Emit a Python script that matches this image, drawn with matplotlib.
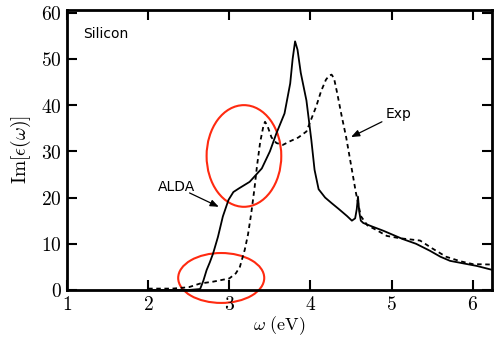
import numpy as np
import matplotlib
matplotlib.use("Agg")
import matplotlib.pyplot as plt
from matplotlib.patches import Ellipse
from matplotlib.ticker import FuncFormatter

# ALDA (solid)
alda_w = [2.0, 2.5, 2.64, 2.68, 2.72, 2.76, 2.80, 2.86, 2.92, 2.99, 3.05, 3.12, 3.25, 3.40,
          3.50, 3.58, 3.68, 3.75, 3.78, 3.81, 3.84, 3.88, 3.95, 4.01, 4.05, 4.10, 4.18, 4.26,
          4.35, 4.45, 4.51, 4.55, 4.57, 4.585, 4.60, 4.62, 4.65, 4.75, 4.9, 5.14, 5.3, 5.47,
          5.6, 5.72, 5.9, 6.05, 6.25]
alda_eps = [0, 0, 0.2, 2, 4.3, 6, 7.9, 11.5, 15.9, 19.5, 21.2, 22, 23.4, 26.3,
            30, 33.9, 38.2, 44.7, 50, 53.8, 52, 47, 41, 32.5, 26, 21.8, 20, 18.8,
            17.5, 16, 15, 15.5, 17.5, 20.2, 17, 15, 14.5, 13.8, 12.8, 11, 10, 8.5,
            7.2, 6.3, 5.7, 5.2, 4.3]

# experiment (dashed)
exp_w = [2.0, 2.3, 2.5, 2.64, 2.8, 3.0, 3.08, 3.13, 3.19, 3.23, 3.27, 3.31, 3.34, 3.38,
         3.42, 3.44, 3.47, 3.52, 3.58, 3.66, 3.75, 3.85, 3.95, 4.07, 4.13, 4.19, 4.23, 4.26,
         4.29, 4.33, 4.38, 4.44, 4.50, 4.56, 4.62, 4.7, 4.81, 4.94, 5.1, 5.35, 5.5, 5.67,
         5.85, 6.0, 6.25]
exp_eps = [0.3, 0.3, 0.6, 1.4, 1.8, 2.5, 3.6, 5, 8.7, 12, 16.6, 22, 26.7, 32,
           35.5, 36.4, 35.5, 33, 31.8, 31.4, 32.2, 33, 34.3, 39.7, 43, 45.5, 46.4, 46.6,
           45.8, 42.5, 38, 33, 27, 21, 16, 14, 13, 11.7, 11.2, 10.7, 9, 7.2,
           6.2, 5.6, 5.5]

xticks = [1, 2, 3, 4, 5, 6]
yticks = [0, 10, 20, 30, 40, 50, 60]

plt.rcParams['mathtext.fontset'] = 'cm'

fig = plt.figure(figsize=(4.94, 3.37), dpi=100)
ax = fig.add_axes([0.1356, 0.1395, 0.861, 0.831])

ax.plot(alda_w, alda_eps, color="black", lw=1.3)
ax.plot(exp_w, exp_eps, color="black", lw=1.3, linestyle=(0, (2.5, 2)))

ax.add_patch(Ellipse((3.18, 29.0), 0.92, 22, fill=False, edgecolor="#ff2a10", lw=1.5))
ax.add_patch(Ellipse((2.90, 2.6), 1.06, 10.8, fill=False, edgecolor="#ff2a10", lw=1.5,
                     clip_on=False))

arrow = dict(arrowstyle="-|>,head_length=0.5,head_width=0.2", color="black",
             lw=0.9, shrinkA=0, shrinkB=0)
ax.text(1.2, 55.4, "Silicon", fontsize=10, va="center", ha="left")
ax.text(2.35, 22.3, "ALDA", fontsize=10, ha="center", va="center")
ax.annotate("", xy=(2.87, 18.0), xytext=(2.51, 21.0), arrowprops=arrow)
ax.text(5.08, 38.1, "Exp", fontsize=10, ha="center", va="center")
ax.annotate("", xy=(4.50, 33.1), xytext=(4.88, 36.4), arrowprops=arrow)

ax.set_xlim(1, 6.24)
ax.set_ylim(0, 60.6)
ax.set_xticks(xticks)
ax.set_yticks(yticks)
fmt = FuncFormatter(lambda v, p: r"$%d$" % v)
ax.xaxis.set_major_formatter(fmt)
ax.yaxis.set_major_formatter(fmt)
ax.tick_params(direction="in", length=7, width=1.5, labelsize=14, top=True, right=True)
for s in ax.spines.values():
    s.set_linewidth(2)

ax.set_xlabel(r"$\omega\ \mathrm{(eV)}$", fontsize=13, labelpad=0)
ax.set_ylabel(r"$\mathrm{Im}[\epsilon(\omega)]$", fontsize=14, labelpad=6)

fig.savefig("out.png", dpi=100)
